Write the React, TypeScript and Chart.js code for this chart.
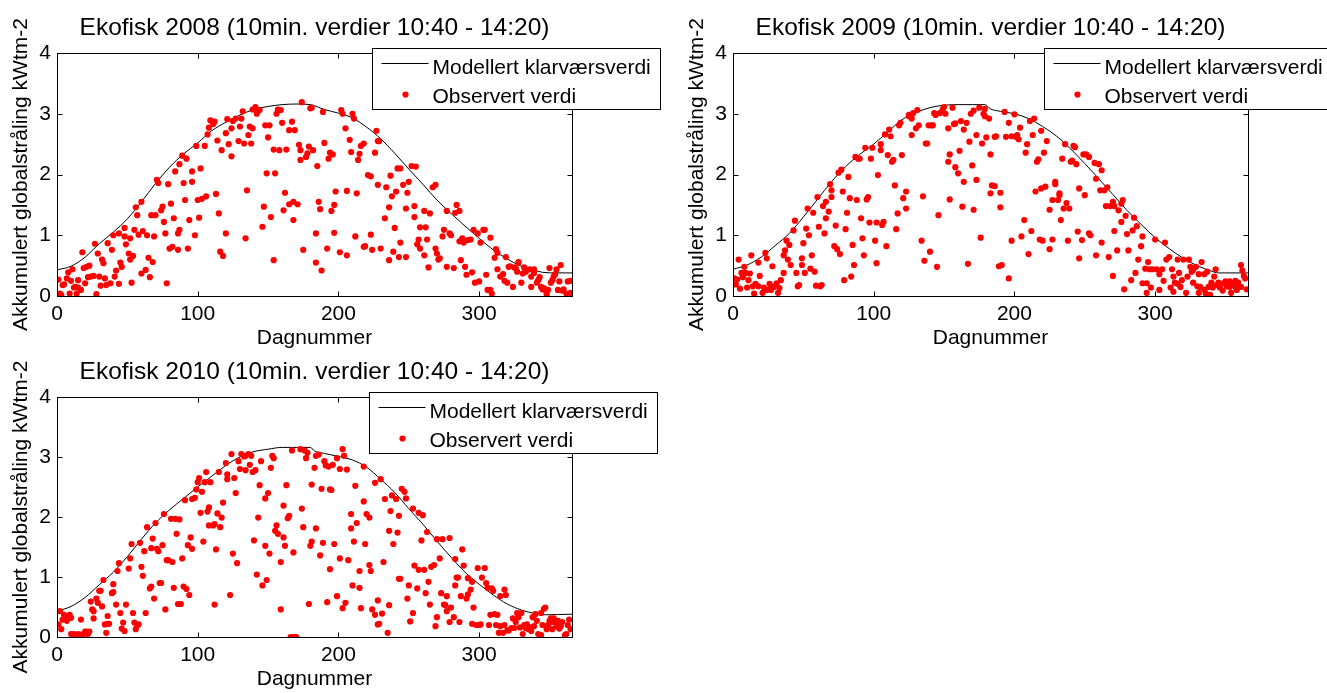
import React, { useEffect, useRef } from "react";
import { Chart, registerables } from "chart.js";

Chart.register(...registerables);

const FONT = '"Liberation Sans", Arial, Helvetica, sans-serif';

// ---------- tick labels ----------
const xTickValues = [0, 100, 200, 300];
const yTickValues = [0, 1, 2, 3, 4];
const xLabel = "Dagnummer";
const yLabel = "Akkumulert globalstråling kWtm-2";
const lineLegend = "Modellert klarværsverdi";
const dotLegend = "Observert verdi";
const titles = [
  "Ekofisk 2008 (10min. verdier 10:40 - 14:20)",
  "Ekofisk 2009 (10min. verdier 10:40 - 14:20)",
  "Ekofisk 2010 (10min. verdier 10:40 - 14:20)",
];

// ---------- modelled clear-sky curve ----------
const model2008Days = [0,10,20,30,40,50,60,70,80,90,100,110,120,130,140,150,160,170,180,190,200,210,220,230,240,250,260,270,280,290,300,310,320,330,340,345,355,366];
const model2008Vals = [0.43,0.49,0.64,0.86,1.05,1.27,1.55,1.85,2.12,2.34,2.52,2.72,2.86,2.98,3.07,3.12,3.15,3.16,3.15,3.07,3.01,2.93,2.78,2.59,2.35,2.09,1.84,1.58,1.36,1.15,0.95,0.76,0.61,0.49,0.42,0.39,0.38,0.38];
const model2009Days = [0,10,20,30,40,50,60,70,80,90,100,110,120,130,140,150,160,170,179,183,190,200,210,220,230,240,250,260,270,280,290,300,310,320,330,340,345,366];
const model2009Vals = [0.44,0.51,0.64,0.83,1.03,1.30,1.59,1.88,2.13,2.33,2.50,2.70,2.90,3.02,3.10,3.14,3.15,3.15,3.15,3.08,3.04,3.00,2.92,2.79,2.63,2.42,2.18,1.93,1.67,1.41,1.18,0.96,0.78,0.62,0.50,0.41,0.38,0.38];
const model2010Days = [0,10,20,30,40,50,60,70,80,90,100,110,120,130,140,150,160,170,180,183,190,200,210,220,230,240,250,260,270,280,290,300,310,320,330,340,347,366];
const model2010Vals = [0.43,0.51,0.66,0.87,1.08,1.34,1.63,1.90,2.12,2.31,2.50,2.68,2.86,3.00,3.09,3.13,3.16,3.16,3.16,3.10,3.06,3.01,2.95,2.83,2.63,2.41,2.14,1.88,1.60,1.33,1.08,0.88,0.70,0.55,0.45,0.39,0.37,0.38];

// ---------- observed values 2008 ----------
const obs2008Days = [1,2,3,4,5,7,8,9,10,11,12,13,14,15,15,17,18,19,20,21,22,23,24,26,27,28,29,30,31,32,33,34,35,36,38,39,40,41,42,44,44,45,46,48,48,49,51,52,52,53,54,55,56,57,58,60,60,61,63,64,65,66,67,68,69,70,71,72,74,75,76,77,78,79,80,81,82,83,84,86,86,87,87,89,90,91,92,93,94,96,96,98,99,100,101,102,103,105,106,107,108,109,111,112,113,114,115,116,117,118,120,120,121,122,124,124,125,127,129,130,131,132,133,134,135,136,137,138,139,139,141,142,143,144,146,147,148,149,150,151,152,154,154,155,156,157,158,159,160,161,162,163,165,165,167,168,168,169,171,172,173,173,174,175,177,178,179,180,181,182,184,184,185,186,187,188,189,190,192,193,195,197,198,197,201,194,196,202,203,205,206,206,208,209,210,211,213,212,214,215,216,218,218,219,221,223,223,224,226,227,228,229,228,230,233,234,236,236,237,238,239,240,241,242,244,243,244,246,248,248,249,250,252,254,255,254,256,257,258,258,261,261,262,263,264,265,267,269,269,270,271,272,274,275,277,277,279,280,282,283,284,286,286,287,288,289,290,291,292,294,295,296,297,299,300,301,303,304,305,306,308,308,309,311,312,313,313,315,317,318,319,320,321,322,324,325,326,327,328,328,330,331,332,333,334,336,337,337,339,339,341,342,343,344,345,346,347,348,349,350,351,352,353,354,355,356,357,358,359,360,362,363,365,365];
const obs2008Vals = [0.27,0.04,0.02,0.18,0.19,0.29,0.39,0.04,0.25,0.44,0.14,0.15,0.04,0.26,0.14,0.10,0.72,0.46,0.21,0.48,0.31,0.50,0.32,0.33,0.86,0.03,0.70,0.32,0.17,0.60,0.54,0.29,0.18,0.87,0.21,0.76,1.00,0.32,0.42,0.20,1.03,0.55,0.48,0.98,1.12,0.85,0.70,0.95,0.60,0.22,0.66,1.09,1.46,1.33,1.01,1.55,0.37,1.07,0.43,1.00,0.63,0.31,1.33,0.56,0.98,1.33,1.91,1.86,1.41,1.47,1.22,1.03,0.21,1.84,0.78,1.52,0.81,1.28,2.05,1.03,0.76,2.17,1.09,2.31,1.86,1.58,2.26,0.78,1.25,2.05,1.88,1.00,2.47,1.58,1.29,2.10,1.60,2.47,1.64,2.66,2.77,2.89,2.83,2.87,1.68,2.56,1.36,0.73,2.40,0.66,1.03,2.68,2.91,2.50,2.76,2.30,2.88,2.92,2.55,2.79,2.92,3.04,2.51,0.95,1.74,2.65,2.79,2.51,2.76,3.07,3.11,3.00,3.05,3.06,1.14,1.47,2.81,2.02,2.61,2.81,1.30,2.41,0.59,2.02,3.00,3.07,2.40,3.06,2.85,1.41,1.70,2.41,1.51,2.73,2.87,1.55,1.25,2.73,1.51,2.49,2.40,2.24,3.19,0.76,2.29,2.35,2.46,3.09,3.10,2.40,0.55,1.03,2.14,1.55,1.43,0.42,3.03,2.52,0.78,2.26,1.40,1.50,1.72,1.04,0.72,2.36,2.33,3.06,3.00,2.76,1.73,0.67,2.57,2.37,3.00,2.92,1.69,0.98,2.24,2.34,2.47,2.51,0.81,0.82,1.99,1.97,1.01,0.76,2.36,2.72,2.55,2.55,1.83,0.78,1.28,1.79,0.59,1.46,1.98,1.64,0.73,1.12,1.72,2.10,2.10,0.64,0.88,1.83,1.44,0.64,1.70,1.88,2.14,1.48,2.13,1.30,0.85,0.93,1.13,0.78,1.40,0.67,1.13,0.93,0.47,1.36,1.79,0.78,1.83,0.70,0.60,0.62,0.98,1.09,0.48,1.40,1.03,1.00,0.46,1.37,1.50,1.40,0.90,0.59,0.95,0.88,0.48,0.35,0.92,0.93,0.39,1.09,0.22,1.03,0.24,0.88,1.09,1.09,0.35,0.10,0.96,0.10,0.04,0.63,0.77,0.71,0.44,0.32,0.36,0.25,0.64,0.22,0.48,0.49,0.15,0.47,0.46,0.40,0.55,0.56,0.22,0.37,0.47,0.40,0.43,0.44,0.15,0.32,0.44,0.38,0.22,0.26,0.31,0.15,0.11,0.13,0.10,0.03,0.10,0.46,0.22,0.26,0.32,0.36,0.44,0.10,0.24,0.51,0.09,0.11,0.04,0.24,0.05,0.25];

// ---------- observed values 2009 ----------
const obs2009Days = [1,2,3,4,5,6,7,8,9,10,11,12,13,14,15,16,18,18,19,21,22,23,24,24,26,27,27,28,29,31,32,33,34,36,36,37,38,39,40,41,43,44,45,46,47,49,49,50,51,52,53,54,55,56,57,58,59,60,61,62,63,64,65,66,66,68,69,70,70,73,72,74,75,76,77,78,79,80,81,82,83,84,85,86,87,88,89,90,91,92,93,94,95,96,97,98,99,101,102,102,103,105,105,106,107,108,109,110,111,112,113,114,115,116,117,118,119,120,121,123,123,125,125,127,127,128,130,131,132,134,135,136,137,138,139,140,141,142,143,144,145,146,147,149,149,150,151,153,153,154,154,156,157,158,158,160,161,162,163,164,164,166,167,168,169,170,171,171,173,173,175,176,177,178,179,179,180,182,183,183,184,186,186,187,189,190,190,191,193,194,196,196,198,198,200,201,202,203,204,205,207,208,209,210,211,212,213,214,215,216,217,218,219,219,220,221,222,223,225,225,227,227,229,229,231,232,232,233,234,235,236,237,238,239,240,241,242,243,244,245,246,246,248,249,250,251,253,253,254,257,258,258,260,261,262,262,264,265,266,267,268,270,270,271,271,273,274,276,276,277,278,279,280,281,283,284,285,286,287,288,290,291,291,293,294,294,295,296,297,298,300,301,303,303,305,306,307,308,310,311,312,313,313,314,316,316,317,318,319,320,322,323,324,325,326,327,327,329,330,331,331,332,333,335,335,336,337,338,339,340,341,342,343,344,345,346,348,349,350,351,352,353,353,354,355,357,357,358,359,361,361,362,363,364,365];
const obs2009Vals = [0.29,0.19,0.27,0.60,0.12,0.38,0.31,0.48,0.38,0.14,0.26,0.37,0.67,0.16,0.04,0.20,0.16,0.55,0.33,0.05,0.14,0.71,0.10,0.62,0.20,0.14,0.10,0.49,0.15,0.21,0.05,0.13,0.26,0.38,0.67,0.75,0.91,0.60,0.84,0.51,1.08,1.24,0.38,0.16,0.18,0.62,0.51,0.87,0.38,1.11,1.44,1.00,0.45,0.67,1.37,0.40,0.17,1.63,1.14,0.16,0.18,1.48,1.03,1.28,1.55,1.39,1.84,1.74,1.63,1.16,0.82,0.77,2.03,0.69,2.08,1.72,0.26,1.10,1.37,1.96,1.61,0.32,0.84,0.51,2.29,1.58,2.26,2.26,1.28,0.95,0.67,2.44,1.59,1.63,1.21,2.26,2.44,0.91,0.54,1.21,1.99,2.50,2.40,1.17,1.22,2.66,0.82,2.32,2.74,2.63,2.21,2.24,1.82,1.10,1.36,2.81,2.85,2.32,1.61,1.44,1.72,2.96,2.98,2.65,2.92,3.01,2.76,3.06,2.81,0.91,1.64,0.58,2.51,2.51,2.81,0.73,2.81,2.81,3.01,2.98,0.48,1.33,3.01,3.07,3.03,3.11,3.00,2.76,2.21,2.33,1.59,3.10,2.83,2.84,2.12,2.02,2.39,2.88,1.47,1.88,2.74,2.85,0.53,2.54,3.00,2.15,3.05,1.42,2.65,1.91,3.10,0.96,2.51,3.00,3.08,2.96,2.61,2.92,1.69,2.33,1.82,2.62,1.81,2.63,0.49,1.70,1.46,0.51,3.03,2.62,2.85,0.29,0.91,2.63,2.99,2.62,2.65,2.58,2.77,0.98,1.25,2.36,2.50,0.69,2.88,1.07,2.65,2.92,1.72,2.21,2.25,0.93,2.72,1.77,0.91,2.36,1.80,2.55,0.77,1.42,0.93,1.58,1.84,1.88,1.58,1.69,1.66,1.25,2.26,1.44,2.50,1.53,0.91,1.44,2.21,2.23,2.47,2.45,2.17,1.06,0.62,1.77,0.92,2.33,1.66,2.33,2.29,1.03,1.00,2.19,0.67,1.93,2.17,1.74,0.88,2.07,1.74,1.48,1.79,0.64,1.48,1.55,0.33,1.48,1.07,0.75,1.41,1.22,1.52,1.58,0.11,1.32,1.02,0.75,0.26,1.08,1.29,0.38,1.15,0.60,0.82,0.21,0.98,0.45,0.05,0.21,0.56,0.44,0.14,0.44,0.93,0.44,0.10,0.36,0.44,0.25,0.88,0.60,0.64,0.14,0.44,0.07,0.32,0.22,0.60,0.20,0.38,0.15,0.26,0.60,0.05,0.32,0.60,0.48,0.40,0.22,0.43,0.48,0.16,0.36,0.05,0.15,0.56,0.36,0.10,0.04,0.40,0.15,0.02,0.22,0.14,0.32,0.44,0.18,0.22,0.14,0.09,0.21,0.24,0.16,0.21,0.24,0.15,0.05,0.21,0.15,0.25,0.10,0.22,0.15,0.51,0.42,0.33,0.29,0.11];

// ---------- observed values 2010 ----------
const obs2010Days = [1,2,3,4,5,6,7,8,9,10,10,11,12,13,14,15,17,17,19,20,21,22,23,24,25,26,26,28,29,30,31,32,33,34,35,36,36,37,39,40,40,42,43,44,45,46,47,48,49,51,52,53,54,55,56,57,58,59,60,61,62,63,64,66,67,67,68,69,70,71,72,73,74,75,76,77,78,79,81,82,83,84,85,86,87,88,89,90,91,92,93,94,95,96,96,98,99,100,101,102,103,104,105,106,107,108,108,109,111,112,112,113,114,115,116,117,118,120,121,121,123,124,125,126,127,128,129,130,131,133,134,134,136,137,138,139,140,141,142,143,144,145,146,148,148,149,150,151,152,153,154,155,156,157,159,159,161,161,162,163,164,165,166,167,168,168,169,170,173,174,175,176,177,178,179,180,181,181,183,184,184,186,187,188,189,190,191,192,193,194,194,196,195,197,199,199,201,201,203,204,203,205,206,207,209,209,210,211,212,213,215,215,216,218,218,219,220,222,222,223,224,226,226,228,229,228,230,231,232,233,235,236,236,237,238,239,241,242,243,244,243,245,247,248,249,250,251,253,253,254,256,257,257,259,260,261,262,263,264,265,266,268,269,270,270,272,273,274,275,276,277,277,279,279,280,282,283,283,284,285,286,287,288,289,291,292,292,294,295,295,296,298,299,300,301,302,304,305,306,307,308,309,310,311,312,313,314,315,315,317,318,318,319,320,321,323,324,325,326,327,328,329,330,331,332,333,334,335,336,337,338,339,340,341,342,344,344,345,346,347,348,349,350,351,352,352,353,355,355,356,357,358,359,361,362,363,364,365];
const obs2010Vals = [0.21,0.43,0.13,0.29,0.37,0.32,0.27,0.33,0.37,0.32,0.05,0.03,0.05,0.02,0.03,0.05,0.29,0.04,0.05,0.09,0.09,0.05,0.09,0.59,0.46,0.31,0.43,0.64,0.57,0.77,0.77,0.51,0.95,0.21,0.07,0.22,0.35,0.22,0.73,0.88,0.75,0.54,1.10,1.23,0.40,0.14,0.24,0.10,0.54,1.14,1.31,1.55,0.40,0.24,0.13,0.20,0.21,1.57,1.17,1.02,1.43,0.40,1.83,0.81,0.84,1.48,1.64,0.64,1.90,1.47,1.43,0.90,0.90,1.53,2.05,0.46,1.28,1.28,1.97,1.25,0.82,1.97,1.72,0.55,1.96,0.55,1.31,0.84,2.28,0.80,1.53,0.70,1.66,1.47,2.30,2.32,2.46,2.58,2.65,2.07,2.42,1.59,2.58,2.75,2.09,1.86,2.16,2.58,1.86,1.88,0.54,1.46,2.06,2.75,1.83,1.99,2.24,2.90,2.63,2.71,0.70,3.05,1.39,2.65,2.40,1.23,2.93,2.80,3.05,3.01,3.02,2.78,3.05,2.87,3.02,2.75,1.61,2.78,1.04,1.99,2.53,2.93,0.86,2.31,1.52,0.95,2.40,1.39,2.82,3.02,2.98,1.77,1.86,1.72,0.46,1.25,2.19,1.66,1.52,2.53,1.98,2.02,0,3.11,1.41,0,0,0,3.13,2.14,1.83,3.11,2.98,3.07,0.55,1.52,2.54,1.59,2.82,1.81,3.02,3.04,1.36,2.47,1.57,2.93,2.86,0.58,2.84,1.13,2.46,2.87,2.45,1.55,2.98,0.68,2.80,1.31,3.13,3.02,0.48,0.57,2.79,1.28,2.05,1.81,0.86,1.59,2.52,1.90,1.10,0.82,0.48,2.84,2.26,1.55,2.05,1.20,1.99,1.10,0.46,2.57,0.37,0.21,0.22,0.61,2.63,0.39,1.25,2.30,0.07,1.77,0.53,2.10,2.36,1.55,2.30,1.74,0.97,0.97,2.02,2.47,2.42,2.31,0.64,0.86,0.26,2.14,0.40,1.19,0.81,2.07,1.12,1.61,2.03,1.12,0.73,1.75,0.92,0.54,1.17,1.20,0.18,1.63,0.33,1.31,0.73,1.63,0.54,0.53,0.68,0.43,0.25,1.65,0.49,0.33,1.30,0.86,0.99,0.99,0.25,0.68,1.46,1.19,0.64,0.71,0.98,0.79,0.22,0.92,0.49,0.20,1.15,0.20,0.21,0.99,1.15,0.90,0.82,0.20,0.37,0.81,0.77,0.38,0.20,0.37,0.07,0.18,0.68,0.07,0.79,0.20,0.70,0.11,0.11,0.15,0.31,0.15,0.25,0.40,0.33,0.16,0.40,0.05,0.20,0.15,0.21,0.13,0.16,0.10,0.33,0.18,0.38,0.27,0.05,0.03,0.40,0.20,0.47,0.49,0.13,0.20,0.27,0.31,0.13,0.25,0.31,0.18,0.25,0.27,0.14,0.18,0.25,0.03,0.05,0.20,0.29,0.13];

type PlotSpec = {
  title: string;
  modelDays: number[];
  modelVals: number[];
  obsDays: number[];
  obsVals: number[];
  left: number;
  top: number;
  width: number;
  height: number;
  legendX: number; // legend box left, relative to plot area left
};

const AXIS_LEFT = 57;
const AXIS_RIGHT = 572;
const TITLE_PAD_TOP = 13;
const TITLE_PAD_BOTTOM = 10;
const X_AXIS_H = 56;

const plots: PlotSpec[] = [
  { title: titles[0], modelDays: model2008Days, modelVals: model2008Vals, obsDays: obs2008Days, obsVals: obs2008Vals, left: 0, top: 0, width: 680, height: 352, legendX: 315 },
  { title: titles[1], modelDays: model2009Days, modelVals: model2009Vals, obsDays: obs2009Days, obsVals: obs2009Vals, left: 676, top: 0, width: 651, height: 352, legendX: 311 },
  { title: titles[2], modelDays: model2010Days, modelVals: model2010Vals, obsDays: obs2010Days, obsVals: obs2010Vals, left: 0, top: 344, width: 680, height: 349, legendX: 312 },
];

const frameAndLegend = {
  id: "frameAndLegend",
  afterDraw(chart: any, _args: any, opts: any) {
    const { ctx, chartArea: a, scales } = chart;
    const L = Math.round(a.left) + 0.5;
    const T = Math.round(a.top) + 0.5;
    const R = Math.round(a.right) + 0.5;
    const B = Math.round(a.bottom) + 0.5;
    ctx.save();
    ctx.strokeStyle = "#000";
    ctx.lineWidth = 1;
    ctx.strokeRect(L, T, R - L, B - T);
    const tl = 5;
    ctx.beginPath();
    for (const v of xTickValues) {
      const x = Math.round(scales.x.getPixelForValue(v)) + 0.5;
      ctx.moveTo(x, B); ctx.lineTo(x, B - tl);
      ctx.moveTo(x, T); ctx.lineTo(x, T + tl);
    }
    for (const v of yTickValues) {
      const y = Math.round(scales.y.getPixelForValue(v)) + 0.5;
      ctx.moveTo(L, y); ctx.lineTo(L + tl, y);
      ctx.moveTo(R, y); ctx.lineTo(R - tl, y);
    }
    ctx.stroke();

    // legend box
    const bx = Math.round(a.left + opts.legendX) + 0.5;
    const by = Math.round(a.top - 5) + 0.5;
    const bw = 288;
    const bh = 61;
    ctx.fillStyle = "#fff";
    ctx.fillRect(bx, by, bw, bh);
    ctx.strokeRect(bx, by, bw, bh);
    ctx.beginPath();
    ctx.moveTo(bx + 9, Math.round(a.top + 10) + 0.5);
    ctx.lineTo(bx + 56, Math.round(a.top + 10) + 0.5);
    ctx.stroke();
    ctx.fillStyle = "#ff0000";
    ctx.beginPath();
    ctx.arc(bx + 33, a.top + 41.5, 3.1, 0, Math.PI * 2);
    ctx.fill();
    ctx.fillStyle = "#000";
    ctx.font = `21px ${FONT}`;
    ctx.textBaseline = "alphabetic";
    ctx.textAlign = "left";
    ctx.fillText(lineLegend, bx + 60, a.top + 20.5);
    ctx.fillText(dotLegend, bx + 60, a.top + 49.5);
    ctx.restore();
  },
};

function makeConfig(p: PlotSpec): any {
  const obs = p.obsDays.map((d, i) => ({ x: d, y: p.obsVals[i] }));
  const model = p.modelDays.map((d, i) => ({ x: d, y: p.modelVals[i] }));
  const tickFont = { family: FONT, size: 21 };
  return {
    type: "scatter",
    data: {
      datasets: [
        {
          type: "scatter",
          label: dotLegend,
          data: obs,
          backgroundColor: "#ff0000",
          borderColor: "#ff0000",
          borderWidth: 0,
          pointRadius: 3.1,
          order: 0,
          clip: 0,
        },
        {
          type: "line",
          label: lineLegend,
          data: model,
          borderColor: "#000000",
          borderWidth: 1,
          pointRadius: 0,
          fill: false,
          cubicInterpolationMode: "monotone",
          order: 1,
          clip: 0,
        },
      ],
    },
    options: {
      responsive: false,
      animation: false,
      devicePixelRatio: 1,
      events: [],
      layout: { padding: { left: 0, right: p.width - AXIS_RIGHT, top: 0, bottom: 0 } },
      plugins: {
        legend: { display: false },
        tooltip: { enabled: false },
        title: {
          display: true,
          fullSize: false,
          text: p.title,
          color: "#000",
          font: { family: FONT, size: 24.5, weight: "normal", lineHeight: 30 / 24.5 },
          padding: { top: TITLE_PAD_TOP, bottom: TITLE_PAD_BOTTOM },
        },
        frameAndLegend: { legendX: p.legendX },
      },
      scales: {
        x: {
          type: "linear",
          min: 0,
          max: 366,
          afterBuildTicks: (s: any) => { s.ticks = xTickValues.map((v) => ({ value: v })); },
          afterFit: (s: any) => { s.height = X_AXIS_H; },
          grid: { display: false, drawTicks: false },
          border: { display: false },
          ticks: { color: "#000", font: tickFont, padding: 6, maxRotation: 0, autoSkip: false },
          title: { display: true, text: xLabel, color: "#000", font: { family: FONT, size: 21, lineHeight: 1.2 }, padding: { top: 0, bottom: 1 } },
        },
        y: {
          type: "linear",
          min: 0,
          max: 4,
          afterBuildTicks: (s: any) => { s.ticks = yTickValues.map((v) => ({ value: v })); },
          afterFit: (s: any) => { s.width = AXIS_LEFT; },
          grid: { display: false, drawTicks: false },
          border: { display: false },
          ticks: { color: "#000", font: tickFont, padding: 6, autoSkip: false },
          title: { display: true, text: yLabel, color: "#000", font: { family: FONT, size: 21, lineHeight: 1.2 }, padding: { top: 9, bottom: 0 } },
        },
      },
    },
    plugins: [frameAndLegend],
  };
}

function Plot({ spec }: { spec: PlotSpec }) {
  const ref = useRef<HTMLCanvasElement | null>(null);
  useEffect(() => {
    if (!ref.current) return;
    const chart = new Chart(ref.current, makeConfig(spec));
    return () => chart.destroy();
  }, [spec]);
  return (
    <canvas
      ref={ref}
      width={spec.width}
      height={spec.height}
      style={{ position: "absolute", left: spec.left, top: spec.top, width: spec.width, height: spec.height }}
    />
  );
}

export default function App() {
  return (
    <div style={{ position: "fixed", left: 0, top: 0, width: 1327, height: 693, background: "#fff", overflow: "hidden" }}>
      {plots.map((p, i) => (
        <Plot key={i} spec={p} />
      ))}
    </div>
  );
}
